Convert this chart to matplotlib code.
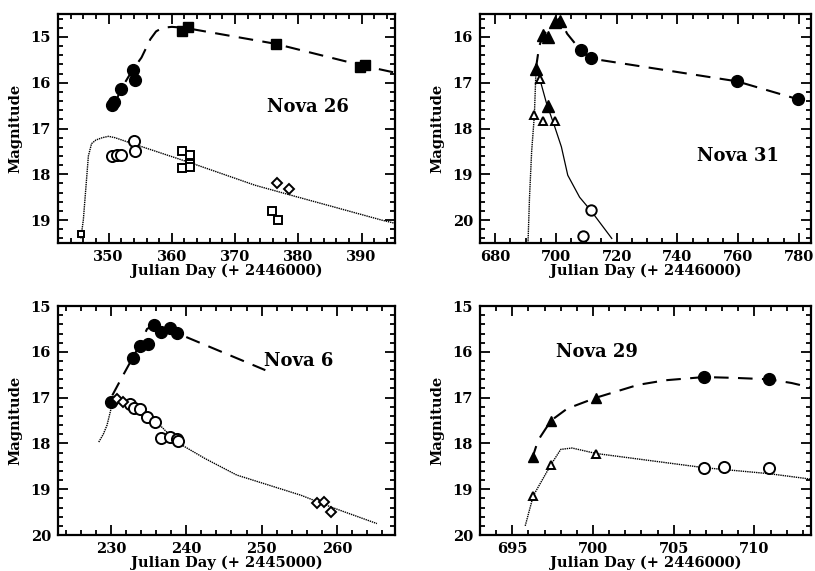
import matplotlib
matplotlib.use('Agg')
import matplotlib.pyplot as plt
from matplotlib.ticker import MultipleLocator

# ---- Nova 26 (JD + 2446000)
n26_fill_circ_x = [350.6, 350.8, 352.0, 353.8, 354.1]
n26_fill_circ_y = [16.48, 16.42, 16.13, 15.73, 15.93]
n26_fill_sq_x = [361.65, 362.6, 376.4, 389.7, 390.5]
n26_fill_sq_y = [14.86, 14.79, 15.15, 15.65, 15.61]
n26_open_circ_x = [350.6, 351.3, 352.0, 354.0, 354.1]
n26_open_circ_y = [17.6, 17.58, 17.57, 17.28, 17.48]
n26_open_sq_x = [361.65, 361.65, 362.8, 362.8, 362.8, 375.8, 376.8]
n26_open_sq_y = [17.5, 17.87, 17.57, 17.77, 17.84, 18.8, 18.99]
n26_small_sq_x = [345.6]
n26_small_sq_y = [19.31]
n26_diam_x = [376.6, 378.6]
n26_diam_y = [18.2, 18.31]
n26_dash_x = [351.0, 352.0, 353.8, 355.2, 356.6, 357.5, 358.5, 360.0, 362.0, 376.4, 390.0, 395.3]
n26_dash_y = [16.45, 16.13, 15.72, 15.45, 15.05, 14.88, 14.8, 14.78, 14.8, 15.15, 15.62, 15.78]
n26_dot_x = [345.6, 346.0, 346.4, 346.8, 347.3, 348.0, 349.0, 350.0, 351.0, 353.8, 363.2, 373.2, 380.0, 385.3, 393.2, 395.3]
n26_dot_y = [19.4, 19.0, 18.3, 17.6, 17.33, 17.25, 17.2, 17.17, 17.2, 17.33, 17.76, 18.24, 18.5, 18.7, 19.0, 19.07]

# ---- Nova 31 (JD + 2446000)
n31_fill_tri_x = [693.4, 695.8, 697.4, 699.6, 701.2, 697.3]
n31_fill_tri_y = [16.69, 15.96, 16.0, 15.67, 15.65, 17.51]
n31_fill_circ_x = [708.1, 711.4, 759.7, 779.7]
n31_fill_circ_y = [16.29, 16.47, 16.97, 17.36]
n31_open_tri_x = [692.9, 694.7, 695.8, 699.6]
n31_open_tri_y = [17.71, 16.92, 17.83, 17.83]
n31_open_circ_x = [711.7, 708.9]
n31_open_circ_y = [19.78, 20.35]
n31_dash_x = [693.4, 694.5, 695.8, 697.4, 699.6, 701.2, 703.7, 708.1, 711.4, 759.7, 779.7, 784.0]
n31_dash_y = [16.69, 16.2, 15.96, 15.85, 15.67, 15.6, 15.93, 16.29, 16.47, 16.97, 17.36, 17.45]
n31_rise_x = [690.8, 691.3, 692.0, 692.9, 693.5]
n31_rise_y = [20.5, 19.5, 18.5, 17.71, 16.6]
n31_fall_x = [693.5, 694.7, 696.9, 699.6, 701.8, 703.9, 707.8, 711.6, 718.4]
n31_fall_y = [16.6, 16.92, 17.45, 17.96, 18.4, 19.02, 19.5, 19.8, 20.4]

# ---- Nova 6 (JD + 2445000)
n6_fill_circ_x = [230.0, 232.9, 233.9, 235.0, 235.7, 236.7, 237.8, 238.75]
n6_fill_circ_y = [17.09, 16.13, 15.87, 15.82, 15.42, 15.57, 15.49, 15.59]
n6_open_circ_x = [232.6, 233.1, 233.9, 234.8, 235.8, 236.7, 237.8, 238.8, 238.9]
n6_open_circ_y = [17.13, 17.22, 17.24, 17.42, 17.53, 17.89, 17.86, 17.91, 17.95]
n6_diam_x = [230.8, 231.6, 257.3, 258.3, 259.2]
n6_diam_y = [17.02, 17.1, 19.29, 19.27, 19.49]
n6_dash_x = [230.2, 231.5, 232.9, 234.0, 234.8, 235.7, 236.7, 237.8, 238.75, 250.5]
n6_dash_y = [16.95, 16.55, 16.13, 15.8, 15.5, 15.42, 15.55, 15.49, 15.59, 16.4]
n6_dot_x = [228.4, 229.0, 229.5, 230.3, 230.8, 232.5, 234.1, 236.5, 238.75, 242.5, 246.7, 250.95, 255.2, 259.4, 265.3]
n6_dot_y = [17.97, 17.8, 17.6, 17.06, 17.0, 17.15, 17.31, 17.6, 17.97, 18.33, 18.69, 18.91, 19.13, 19.4, 19.75]

# ---- Nova 29 (JD + 2446000)
n29_fill_tri_x = [696.3, 697.4, 700.2]
n29_fill_tri_y = [18.29, 17.5, 17.0]
n29_fill_circ_x = [706.9, 710.9]
n29_fill_circ_y = [16.55, 16.6]
n29_open_tri_x = [696.3, 697.4, 700.2]
n29_open_tri_y = [19.14, 18.46, 18.22]
n29_open_circ_x = [706.9, 708.1, 710.9]
n29_open_circ_y = [18.53, 18.51, 18.53]
n29_dash_x = [696.2, 696.6, 697.4, 698.4, 700.2, 702.8, 704.5, 706.9, 708.9, 710.9, 712.3, 713.5]
n29_dash_y = [18.36, 17.93, 17.5, 17.24, 17.0, 16.72, 16.62, 16.55, 16.57, 16.6, 16.68, 16.78]
n29_dot_x = [695.8, 696.3, 697.4, 698.0, 698.7, 700.2, 706.9, 710.9, 713.5]
n29_dot_y = [19.8, 19.14, 18.46, 18.13, 18.1, 18.22, 18.53, 18.66, 18.78]

FONT = 'DejaVu Serif'
DASH = (0, (7, 4.5))
DOT = (0, (1, 0.6))


def style_axes(ax, xlim, ylim, xmaj, xmin, xlabel):
	ax.set_xlim(xlim)
	ax.set_ylim(ylim)
	ax.xaxis.set_major_locator(MultipleLocator(xmaj))
	ax.xaxis.set_minor_locator(MultipleLocator(xmin))
	ax.yaxis.set_major_locator(MultipleLocator(1))
	ax.yaxis.set_minor_locator(MultipleLocator(0.2))
	ax.tick_params(which='both', direction='in', top=True, right=True, width=1.3, colors='black')
	ax.tick_params(which='major', length=7, pad=5)
	ax.tick_params(which='minor', length=3.5)
	for s in ax.spines.values():
		s.set_linewidth(1.6)
	for lab in ax.get_xticklabels() + ax.get_yticklabels():
		lab.set_fontfamily(FONT)
		lab.set_fontweight('bold')
		lab.set_fontsize(10.5)
	ax.set_xlabel(xlabel, family=FONT, weight='bold', fontsize=10.5, labelpad=0)
	ax.set_ylabel('Magnitude', family=FONT, weight='bold', fontsize=10.5, labelpad=6)


def filled(ax, x, y, marker, size):
	ax.plot(x, y, linestyle='none', marker=marker, markersize=size, color='black', zorder=3)


def hollow(ax, x, y, marker, size):
	ax.plot(x, y, linestyle='none', marker=marker, markersize=size, markerfacecolor='white',
		markeredgecolor='black', markeredgewidth=1.4, zorder=3)


def label(ax, x, y, txt):
	ax.text(x, y, txt, family=FONT, weight='bold', fontsize=13, ha='left', va='center')


def main():
	fig = plt.figure(figsize=(8.15, 5.71), dpi=100)
	ax1 = fig.add_axes([0.0712, 0.5744, 0.4135, 0.401])
	ax2 = fig.add_axes([0.589, 0.5744, 0.406, 0.401])
	ax3 = fig.add_axes([0.0712, 0.063, 0.4135, 0.401])
	ax4 = fig.add_axes([0.589, 0.063, 0.406, 0.401])

	# Nova 26
	ax1.plot(n26_dash_x, n26_dash_y, color='black', lw=1.5, linestyle=DASH)
	ax1.plot(n26_dot_x, n26_dot_y, color='black', lw=1.0, linestyle=DOT)
	filled(ax1, n26_fill_circ_x, n26_fill_circ_y, 'o', 8.5)
	filled(ax1, n26_fill_sq_x, n26_fill_sq_y, 's', 7)
	hollow(ax1, n26_open_circ_x, n26_open_circ_y, 'o', 8)
	hollow(ax1, n26_open_sq_x, n26_open_sq_y, 's', 6)
	hollow(ax1, n26_small_sq_x, n26_small_sq_y, 's', 4.5)
	hollow(ax1, n26_diam_x, n26_diam_y, 'D', 5.5)
	label(ax1, 375, 16.53, 'Nova 26')
	style_axes(ax1, (342, 395.3), (19.5, 14.5), 10, 2, 'Julian Day (+ 2446000)')

	# Nova 31
	ax2.plot(n31_dash_x, n31_dash_y, color='black', lw=1.5, linestyle=DASH)
	ax2.plot(n31_rise_x, n31_rise_y, color='black', lw=1.0, linestyle=DOT)
	ax2.plot(n31_fall_x, n31_fall_y, color='black', lw=0.9)
	filled(ax2, n31_fill_tri_x, n31_fill_tri_y, '^', 8.5)
	filled(ax2, n31_fill_circ_x, n31_fill_circ_y, 'o', 8.5)
	hollow(ax2, n31_open_tri_x, n31_open_tri_y, '^', 6)
	hollow(ax2, n31_open_circ_x, n31_open_circ_y, 'o', 7.5)
	label(ax2, 746.4, 18.6, 'Nova 31')
	style_axes(ax2, (675, 784), (20.5, 15.5), 20, 5, 'Julian Day (+ 2446000)')

	# Nova 6
	ax3.plot(n6_dash_x, n6_dash_y, color='black', lw=1.5, linestyle=DASH)
	ax3.plot(n6_dot_x, n6_dot_y, color='black', lw=1.0, linestyle=DOT)
	filled(ax3, n6_fill_circ_x, n6_fill_circ_y, 'o', 8.5)
	hollow(ax3, n6_open_circ_x, n6_open_circ_y, 'o', 8)
	hollow(ax3, n6_diam_x, n6_diam_y, 'D', 5.5)
	label(ax3, 250.3, 16.2, 'Nova 6')
	style_axes(ax3, (223, 267.7), (20, 15), 10, 2, 'Julian Day (+ 2445000)')

	# Nova 29
	ax4.plot(n29_dash_x, n29_dash_y, color='black', lw=1.5, linestyle=DASH)
	ax4.plot(n29_dot_x, n29_dot_y, color='black', lw=1.0, linestyle=DOT)
	filled(ax4, n29_fill_tri_x, n29_fill_tri_y, '^', 6.5)
	filled(ax4, n29_fill_circ_x, n29_fill_circ_y, 'o', 8.5)
	hollow(ax4, n29_open_tri_x, n29_open_tri_y, '^', 6)
	hollow(ax4, n29_open_circ_x, n29_open_circ_y, 'o', 8)
	label(ax4, 697.7, 16.0, 'Nova 29')
	style_axes(ax4, (693, 713.5), (20, 15), 5, 1, 'Julian Day (+ 2446000)')

	fig.savefig('out.png', dpi=100)


if __name__ == '__main__':
	main()
